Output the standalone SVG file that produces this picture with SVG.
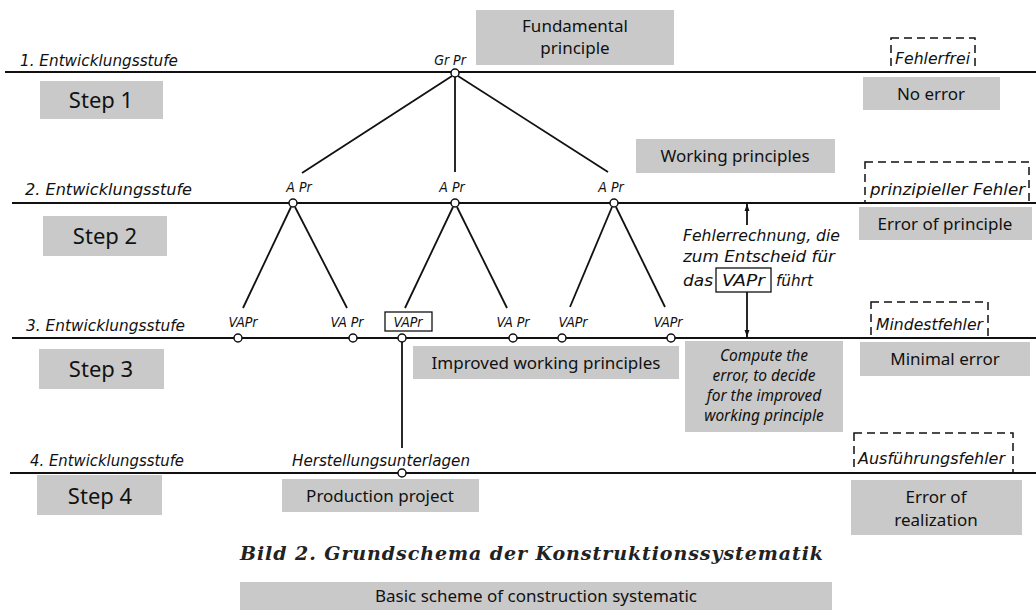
<svg xmlns="http://www.w3.org/2000/svg" width="1036" height="610" viewBox="0 0 1036 610">
  <defs>
    <style>
      .bg { fill: #ffffff; }
      .gbox { fill: #c9c9c9; }
      .en { font-family: "Noto Sans", "DejaVu Sans", sans-serif; font-size: 17px; fill: #111; text-anchor: middle; }
      .step { font-family: "Noto Sans", "DejaVu Sans", sans-serif; font-size: 22px; fill: #111; text-anchor: middle; }
      .enit { font-family: "Noto Sans", "DejaVu Sans", sans-serif; font-size: 15.5px; font-style: italic; fill: #111; text-anchor: middle; }
      .de { font-family: "DejaVu Sans Condensed", "Liberation Sans", sans-serif; font-stretch: condensed; font-style: italic; font-size: 15px; fill: #111; }
      .dem { font-family: "DejaVu Sans Condensed", "Liberation Sans", sans-serif; font-stretch: condensed; font-style: italic; font-size: 14px; fill: #111; text-anchor: middle; }
      .level { stroke: #111; stroke-width: 2; fill: none; }
      .edge { stroke: #111; stroke-width: 1.8; fill: none; }
      .node { fill: #fff; stroke: #111; stroke-width: 1.5; }
      .dash { fill: none; stroke: #111; stroke-width: 1.5; stroke-dasharray: 8 5; }
      .frame { fill: none; stroke: #111; stroke-width: 1.3; }
      .cap { font-family: "DejaVu Serif", "Liberation Serif", serif; font-style: italic; font-weight: bold; font-size: 19px; fill: #222; }
    </style>
    <marker id="arr" viewBox="0 0 10 10" refX="10" refY="5" markerWidth="7" markerHeight="9" markerUnits="userSpaceOnUse" orient="auto">
      <path d="M0,1.5 L10,5 L0,8.5 Z" fill="#111"/>
    </marker>
  </defs>
  <rect class="bg" x="0" y="0" width="1036" height="610"/>

  <!-- stage lines -->
  <g id="levels">
    <line class="level" x1="5" y1="72" x2="1036" y2="72"/>
    <line class="level" x1="12" y1="203" x2="1036" y2="203"/>
    <line class="level" x1="12" y1="338" x2="1036" y2="338"/>
    <line class="level" x1="10" y1="473" x2="1036" y2="473"/>
  </g>

  <g id="stage-labels">
    <text class="de" x="20" y="66" textLength="158" lengthAdjust="spacingAndGlyphs">1. Entwicklungsstufe</text>
    <text class="de" x="25" y="195" textLength="167" lengthAdjust="spacingAndGlyphs">2. Entwicklungsstufe</text>
    <text class="de" x="26" y="331" textLength="159" lengthAdjust="spacingAndGlyphs">3. Entwicklungsstufe</text>
    <text class="de" x="30" y="466" textLength="154" lengthAdjust="spacingAndGlyphs">4. Entwicklungsstufe</text>
  </g>

  <!-- connectors -->
  <g id="connectors">
    <line class="edge" x1="452" y1="76" x2="302" y2="173"/>
    <line class="edge" x1="455" y1="77" x2="455" y2="172"/>
    <line class="edge" x1="458" y1="76" x2="608" y2="172"/>
    <line class="edge" x1="291" y1="207" x2="243" y2="308"/>
    <line class="edge" x1="295" y1="207" x2="347" y2="308"/>
    <line class="edge" x1="453" y1="207" x2="405" y2="308"/>
    <line class="edge" x1="457" y1="207" x2="507" y2="308"/>
    <line class="edge" x1="612" y1="207" x2="570" y2="307"/>
    <line class="edge" x1="616" y1="207" x2="665" y2="307"/>
    <line class="edge" x1="402" y1="342" x2="402" y2="448"/>
    <line class="edge" x1="747" y1="225" x2="747" y2="204" marker-end="url(#arr)" stroke-width="1.4"/>
    <line class="edge" x1="747" y1="292" x2="747" y2="337" marker-end="url(#arr)" stroke-width="1.4"/>
  </g>

  <!-- level 1 -->
  <g id="node-grpr">
    <circle class="node" cx="455" cy="73" r="4"/>
    <text class="dem" x="450" y="65">Gr Pr</text>
  </g>
  <g id="node-fundamental">
    <rect class="gbox" x="476" y="10" width="198" height="55"/>
    <text class="en" x="575" y="32">Fundamental</text>
    <text class="en" x="575" y="54">principle</text>
  </g>
  <g id="node-step1">
    <rect class="gbox" x="40" y="81" width="123" height="38"/>
    <text class="step" x="101" y="108">Step 1</text>
  </g>
  <g id="node-fehlerfrei">
    <rect class="dash" x="891" y="38" width="84" height="34"/>
    <text class="de" x="895" y="64" textLength="75" lengthAdjust="spacingAndGlyphs">Fehlerfrei</text>
  </g>
  <g id="node-noerror">
    <rect class="gbox" x="863" y="77" width="137" height="33"/>
    <text class="en" x="931" y="100">No error</text>
  </g>

  <!-- level 2 -->
  <g id="node-apr1">
    <circle class="node" cx="293" cy="203" r="4"/>
    <text class="dem" x="299" y="192">A Pr</text>
  </g>
  <g id="node-apr2">
    <circle class="node" cx="455" cy="203" r="4"/>
    <text class="dem" x="452" y="192">A Pr</text>
  </g>
  <g id="node-apr3">
    <circle class="node" cx="614" cy="203" r="4"/>
    <text class="dem" x="611" y="192">A Pr</text>
  </g>
  <g id="node-working">
    <rect class="gbox" x="636" y="139" width="199" height="34"/>
    <text class="en" x="735" y="162">Working principles</text>
  </g>
  <g id="node-step2">
    <rect class="gbox" x="43" y="216" width="124" height="40"/>
    <text class="step" x="105" y="244">Step 2</text>
  </g>
  <g id="node-prinzip">
    <rect class="dash" x="865" y="162" width="164" height="41"/>
    <text class="de" x="870" y="195" textLength="155" lengthAdjust="spacingAndGlyphs">prinzipieller  Fehler</text>
  </g>
  <g id="node-errprinciple">
    <rect class="gbox" x="859" y="207" width="173" height="33"/>
    <text class="en" x="945" y="230">Error of principle</text>
  </g>
  <g id="node-fehlerrechnung">
    <text class="de" x="683" y="241" textLength="157" lengthAdjust="spacingAndGlyphs">Fehlerrechnung, die</text>
    <text class="de" x="683" y="262" textLength="152" lengthAdjust="spacingAndGlyphs">zum  Entscheid  für</text>
    <text class="de" x="683" y="286" textLength="30" lengthAdjust="spacingAndGlyphs">das</text>
    <rect class="frame" x="716" y="268" width="55" height="24"/>
    <text class="de" x="722" y="286" textLength="43" lengthAdjust="spacingAndGlyphs">VAPr</text>
    <text class="de" x="776" y="286" textLength="37" lengthAdjust="spacingAndGlyphs">führt</text>
  </g>

  <!-- level 3 -->
  <g id="node-vapr1">
    <circle class="node" cx="238" cy="338" r="4"/>
    <text class="dem" x="243" y="327">VAPr</text>
  </g>
  <g id="node-vapr2">
    <circle class="node" cx="353" cy="338" r="4"/>
    <text class="dem" x="347" y="327">VA Pr</text>
  </g>
  <g id="node-vapr3">
    <circle class="node" cx="402" cy="338" r="4"/>
    <rect class="frame" x="385" y="312" width="47" height="19"/>
    <text class="dem" x="408" y="327">VAPr</text>
  </g>
  <g id="node-vapr4">
    <circle class="node" cx="513" cy="338" r="4"/>
    <text class="dem" x="513" y="327">VA Pr</text>
  </g>
  <g id="node-vapr5">
    <circle class="node" cx="562" cy="338" r="4"/>
    <text class="dem" x="573" y="327">VAPr</text>
  </g>
  <g id="node-vapr6">
    <circle class="node" cx="671" cy="338" r="4"/>
    <text class="dem" x="668" y="327">VAPr</text>
  </g>
  <g id="node-step3">
    <rect class="gbox" x="39" y="349" width="125" height="40"/>
    <text class="step" x="101" y="377">Step 3</text>
  </g>
  <g id="node-improved">
    <rect class="gbox" x="413" y="346" width="266" height="33"/>
    <text class="en" x="546" y="369">Improved working principles</text>
  </g>
  <g id="node-compute">
    <rect class="gbox" x="685" y="341" width="158" height="91"/>
    <text class="enit" x="764" y="361">Compute the</text>
    <text class="enit" x="764" y="381">error, to decide</text>
    <text class="enit" x="764" y="401">for the improved</text>
    <text class="enit" x="764" y="421">working principle</text>
  </g>
  <g id="node-mindest">
    <rect class="dash" x="871" y="302" width="117" height="36"/>
    <text class="de" x="876" y="330" textLength="107" lengthAdjust="spacingAndGlyphs">Mindestfehler</text>
  </g>
  <g id="node-minimal">
    <rect class="gbox" x="860" y="342" width="170" height="34"/>
    <text class="en" x="945" y="365">Minimal error</text>
  </g>

  <!-- level 4 -->
  <g id="node-herstellung">
    <circle class="node" cx="402" cy="473" r="4"/>
    <text class="de" x="292" y="466" textLength="178" lengthAdjust="spacingAndGlyphs">Herstellungsunterlagen</text>
  </g>
  <g id="node-step4">
    <rect class="gbox" x="37" y="475" width="125" height="40"/>
    <text class="step" x="100" y="504">Step 4</text>
  </g>
  <g id="node-production">
    <rect class="gbox" x="282" y="479" width="197" height="33"/>
    <text class="en" x="380" y="502">Production project</text>
  </g>
  <g id="node-ausfuehrung">
    <rect class="dash" x="854" y="433" width="159" height="40"/>
    <text class="de" x="858" y="464" textLength="147" lengthAdjust="spacingAndGlyphs">Ausführungsfehler</text>
  </g>
  <g id="node-realization">
    <rect class="gbox" x="851" y="480" width="171" height="55"/>
    <text class="en" x="936" y="503">Error of</text>
    <text class="en" x="936" y="526">realization</text>
  </g>

  <!-- caption -->
  <g id="caption">
    <text class="cap" x="240" y="560" textLength="583" lengthAdjust="spacing">Bild 2. Grundschema der Konstruktionssystematik</text>
    <rect class="gbox" x="240" y="582" width="592" height="28"/>
    <text class="en" x="536" y="602">Basic scheme of construction systematic</text>
  </g>
</svg>
